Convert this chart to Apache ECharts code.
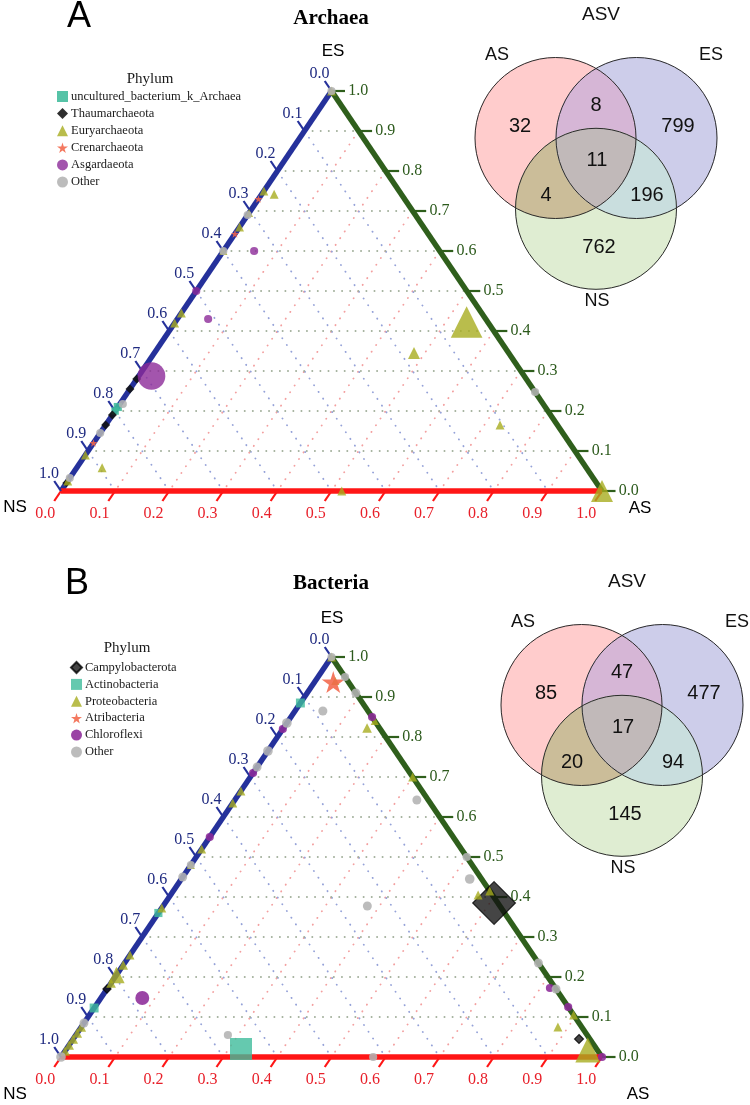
<!DOCTYPE html>
<html><head><meta charset="utf-8">
<script src="https://cdn.jsdelivr.net/npm/echarts@6/dist/echarts.min.js"></script>
<style>html,body{margin:0;padding:0;background:#fff}#c{width:750px;height:1105px}</style>
</head><body><div id="c"></div>
<script>
// ================= DATA =================
const tickValues = [0, 0.1, 0.2, 0.3, 0.4, 0.5, 0.6, 0.7, 0.8, 0.9, 1.0];
const tickLabels = ['0.0','0.1','0.2','0.3','0.4','0.5','0.6','0.7','0.8','0.9','1.0'];
const gridValues = [0.1, 0.2, 0.3, 0.4, 0.5, 0.6, 0.7, 0.8, 0.9];

// Panel A – Archaea. Each point: [NS, ES, AS, relative abundance]
const archaeaUncultured = [[0.79,0.21,0,2],[0.80,0.20,0,1.6]];
const archaeaThaum = [[0.72,0.28,0,2.5],[0.745,0.255,0,2.5],[0.81,0.19,0,2.5],[0.835,0.165,0,2.5],[0.98,0.02,0,2]];
const archaeaEury = [[0,1,0,2.5],[0.25,0.75,0,2.5],[0.235,0.742,0.023,2.5],[0.305,0.695,0,2],[0.34,0.66,0,2.5],
  [0.4,0.6,0,2],[0.555,0.445,0,2.5],[0.58,0.42,0,2.5],[0.91,0.09,0,2.5],[0.895,0.058,0.047,2.5],
  [0.039,0.4225,0.5385,41],[0.175,0.345,0.48,5],[0.106,0.165,0.729,2.5],[0,0,1,19],[0.481,0,0.519,2.5],[0.975,0.025,0,2.5]];
const archaeaCren = [[0.27,0.73,0,2],[0.357,0.643,0,2],[0.88,0.12,0,2]];
const archaeaAsgard = [[0.343,0.60,0.057,2],[0.50,0.50,0,2],[0.513,0.43,0.057,2],[0.689,0.2875,0.0235,31]];
const archaeaOther = [[0,1,0,2],[0.31,0.69,0,2],[0.40,0.60,0,2],[0.777,0.2175,0.0055,2],[0.855,0.145,0,2],[0.9675,0.0325,0,2],[0,0.2475,0.7525,2]];

// Panel B – Bacteria
const bacteriaCampylo = [[0.007,0.385,0.608,77],[0.02,0.045,0.935,2.5],[0.83,0.17,0,2]];
const bacteriaActino = [[0.115,0.885,0,2.5],[0.64,0.36,0,2],[0.8775,0.1225,0,2.5],[0.6573,0.02,0.3227,19]];
const bacteriaProteo = [[0,1,0,2.5],[0.023,0.94,0.037,2],[0.023,0.8225,0.1545,3],[0.335,0.665,0,2.5],[0.365,0.635,0,2.5],
  [0.48,0.52,0,2.5],[0.52,0.48,0,2],[0.6275,0.3725,0,2.5],[0.745,0.255,0,2.5],[0.77,0.23,0,3],[0.795,0.205,0,10],
  [0.815,0.185,0,3],[0.925,0.075,0,3],[0.94,0.06,0,3],[0.955,0.045,0,3],[0.97,0.03,0,3],[0.985,0.015,0,3],
  [0,0.7,0.3,2.5],[0,0.84,0.16,2],[0.0265,0.405,0.5685,2.5],[0,0.415,0.585,2.5],[0,0.105,0.895,2.5],
  [0.044,0.075,0.881,2.5],[0.0175,0.0175,0.965,25]];
const bacteriaAtri = [[0.028,0.9375,0.0345,21]];
const bacteriaChloro = [[0.18,0.82,0,2],[0.29,0.71,0,2],[0.45,0.55,0,2],[0.776,0.1475,0.0765,7],
  [0.01,0.1725,0.8175,2],[0,0.125,0.875,2],[0,0.85,0.15,2],[0,0,1,2]];
const bacteriaOther = [[0,1,0,2],[0.0835,0.865,0.0515,2.6],[0.165,0.835,0,3],[0.235,0.765,0,3],[0.275,0.725,0,2.5],
  [0.52,0.48,0,2],[0.55,0.45,0,2.5],[0.915,0.085,0,2.5],[1,0,0,3],[0.664,0.055,0.281,2],[0.423,0,0.577,2],
  [0.021,0.6425,0.3365,2.5],[0,0.5,0.5,2],[0.022,0.445,0.533,3],[0.245,0.3775,0.3775,2.5],[0,0.235,0.765,2.5],
  [0,0.17,0.83,2.5],[0,0.91,0.09,2.5],[0,0.95,0.05,2]];

// Venn counts: [AS only, AS∩ES, ES only, AS∩ES∩NS, AS∩NS, ES∩NS, NS only]
const vennArchaea = [32, 8, 799, 11, 4, 196, 762];
const vennBacteria = [85, 47, 477, 17, 20, 94, 145];
const vennSets = ['AS', 'ES', 'NS'];

// ================= LAYOUT / STYLE =================
const SERIF = '"Liberation Serif", "Times New Roman", serif';
const SANS = '"Liberation Sans", Arial, sans-serif';
const C = {
  red: '#ff1616', blue: '#25319b', green: '#2f5f1c',
  redT: '#e8202a', blueT: '#1f2a80', greenT: '#2c5a1c',
  gES: '#a3b09c', gNS: '#95a2d8', gAS: '#f3a0a0',
  teal: '#3fbb9b', black: '#111111', olive: '#a8ad1f', coral: '#f2674a', purple: '#8c2a99', gray: '#b3b3b3'
};
const STAR = 'path://M50,0 L61,35 L98,35 L68,57 L79,91 L50,70 L21,91 L32,57 L2,35 L39,35 Z';

function tern(ns, es, as) { return [as + es / 2, es]; }

const series = [];
const grids = [];
const xAxes = [];
const yAxes = [];

function addGrid(left, top, width, height, xmax, ymax, inverse) {
  grids.push({left, top, width, height, containLabel: false});
  const i = grids.length - 1;
  xAxes.push({type: 'value', gridIndex: i, min: 0, max: xmax, show: false});
  yAxes.push({type: 'value', gridIndex: i, min: 0, max: ymax, show: false, inverse: !!inverse});
  return i;
}

function segRender(color, width, dash, cap) {
  return function (params, api) {
    const p1 = api.coord([api.value(0), api.value(1)]);
    const p2 = api.coord([api.value(2), api.value(3)]);
    return {type: 'line', shape: {x1: p1[0], y1: p1[1], x2: p2[0], y2: p2[1]},
      style: {stroke: color, lineWidth: width, lineDash: dash || null, lineCap: cap || 'butt'}};
  };
}
function segSeries(gi, data, color, width, dash, cap, z) {
  series.push({type: 'custom', xAxisIndex: gi, yAxisIndex: gi, coordinateSystem: 'cartesian2d',
    renderItem: segRender(color, width, dash, cap), data, encode: {x: [0, 2], y: [1, 3]}, z, clip: false, silent: true});
}
function textSeries(gi, pts, texts, color, font, align, z) {
  series.push({type: 'custom', xAxisIndex: gi, yAxisIndex: gi, coordinateSystem: 'cartesian2d', clip: false, silent: true, z,
    data: pts, encode: {x: 0, y: 1},
    renderItem: function (params, api) {
      const p = api.coord([api.value(0), api.value(1)]);
      return {type: 'text', x: p[0], y: p[1],
        style: {text: texts[params.dataIndex], fill: color, font, align, verticalAlign: 'middle'}};
    }});
}

function ternaryPanel(gi, groups) {
  const esL = [], nsL = [], asL = [];
  gridValues.forEach(v => {
    esL.push([...tern(1 - v, v, 0), ...tern(0, v, 1 - v)]);
    nsL.push([...tern(v, 1 - v, 0), ...tern(v, 0, 1 - v)]);
    asL.push([...tern(0, 1 - v, v), ...tern(1 - v, 0, v)]);
  });
  segSeries(gi, asL, C.gAS, 1.9, [0.1, 8], 'round', 1);
  segSeries(gi, nsL, C.gNS, 1.9, [0.1, 8], 'round', 1);
  segSeries(gi, esL, C.gES, 1.9, [0.1, 8], 'round', 1);
  segSeries(gi, [[...tern(1, 0, 0), ...tern(0, 1, 0)]], C.blue, 5.5, null, 'butt', 2);
  segSeries(gi, [[...tern(0, 0, 1), ...tern(0, 1, 0)]], C.green, 5.5, null, 'butt', 2);
  segSeries(gi, [[...tern(1, 0, 0), ...tern(0, 0, 1)]], C.red, 5.5, null, 'butt', 2);
  const t = 0.025, rT = [], bT = [], gT = [], rP = [], bP = [], gP = [];
  tickValues.forEach(v => {
    rT.push([...tern(1 - v, 0, v), ...tern(1 - v + t, -t, v)]);
    bT.push([...tern(v, 1 - v, 0), ...tern(v, 1 - v + t, -t)]);
    gT.push([...tern(0, v, 1 - v), ...tern(-t, v, 1 - v + t)]);
    rP.push(tern(1 - v + 0.058, -0.058, v));
    bP.push(tern(v, 1 - v + 0.044, -0.044));
    gP.push(tern(-0.031, v, 1 - v + 0.031));
  });
  segSeries(gi, rT, C.red, 2.2, null, 'butt', 2);
  segSeries(gi, bT, C.blue, 2.2, null, 'butt', 2);
  segSeries(gi, gT, C.green, 2.2, null, 'butt', 2);
  textSeries(gi, rP, tickLabels, C.redT, '16px ' + SERIF, 'center', 2);
  textSeries(gi, bP, tickLabels, C.blueT, '16px ' + SERIF, 'center', 2);
  textSeries(gi, gP, tickLabels, C.greenT, '16px ' + SERIF, 'left', 2);
  groups.forEach(g => {
    series.push({type: 'scatter', name: g.name, xAxisIndex: gi, yAxisIndex: gi, clip: false, z: 3,
      symbol: g.symbol, symbolKeepAspect: true,
      symbolSize: val => 1.5 + 4.7 * Math.sqrt(val[2]),
      itemStyle: {color: g.color, opacity: g.opacity || 0.88, borderColor: g.border || 'transparent', borderWidth: g.border ? 1.2 : 0},
      data: g.data.map(d => { const p = tern(d[0], d[1], d[2]); return [p[0], p[1], d[3]]; })});
  });
}

// ---- Venn geometry (layout in px units of the venn grid) ----
const vennCircles = [[95.5, 138, 80.5], [176.5, 138, 80.5], [136, 208.8, 80.5]];
const vennRegionSets = [[0], [1], [2], [0, 1], [0, 2], [1, 2], [0, 1, 2]];
const vennRegionColors = ['#ffcccc', '#cdcdea', '#dfedd2', '#d6b6d6', '#cbbd99', '#c9dede', '#c1b9b9'];
const vennNumPos = [[60, 126], [136, 105], [218, 126], [137, 160], [86, 195], [187, 195], [139, 247]];
const vennSetPos = [[37, 55], [251, 55], [137, 301]];

function circlePoly(c, n) {
  const pts = [];
  for (let i = 0; i < n; i++) { const a = 2 * Math.PI * i / n; pts.push([c[0] + c[2] * Math.cos(a), c[1] + c[2] * Math.sin(a)]); }
  return pts;
}
function signedArea(p) { let s = 0; for (let i = 0; i < p.length; i++) { const a = p[i], b = p[(i + 1) % p.length]; s += a[0] * b[1] - b[0] * a[1]; } return s; }
function clipConvex(subject, clipper) {
  const sgn = signedArea(clipper) > 0 ? 1 : -1;
  let out = subject;
  for (let i = 0; i < clipper.length && out.length; i++) {
    const a = clipper[i], b = clipper[(i + 1) % clipper.length];
    const inside = p => sgn * ((b[0] - a[0]) * (p[1] - a[1]) - (b[1] - a[1]) * (p[0] - a[0])) >= 0;
    const inter = (p, q) => {
      const d = (p[0] - q[0]) * (a[1] - b[1]) - (p[1] - q[1]) * (a[0] - b[0]);
      const tt = ((p[0] - a[0]) * (a[1] - b[1]) - (p[1] - a[1]) * (a[0] - b[0])) / d;
      return [p[0] + tt * (q[0] - p[0]), p[1] + tt * (q[1] - p[1])];
    };
    const inp = out; out = [];
    for (let j = 0; j < inp.length; j++) {
      const p = inp[j], q = inp[(j + 1) % inp.length];
      const pin = inside(p), qin = inside(q);
      if (pin) { out.push(p); if (!qin) out.push(inter(p, q)); }
      else if (qin) out.push(inter(p, q));
    }
  }
  return out;
}
const circlePolys = vennCircles.map(c => circlePoly(c, 180));
const vennRegionPolys = vennRegionSets.map(s => s.slice(1).reduce((poly, k) => clipConvex(poly, circlePolys[k]), circlePolys[s[0]]));

function vennPanel(gi, counts) {
  series.push({type: 'custom', xAxisIndex: gi, yAxisIndex: gi, coordinateSystem: 'cartesian2d', clip: false, silent: true, z: 2,
    data: vennRegionSets.map(() => [0, 0]), encode: {x: 0, y: 1},
    renderItem: function (params, api) {
      const pts = vennRegionPolys[params.dataIndex].map(p => api.coord(p));
      return {type: 'polygon', shape: {points: pts}, style: {fill: vennRegionColors[params.dataIndex], stroke: vennRegionColors[params.dataIndex], lineWidth: 0.5}};
    }});
  series.push({type: 'custom', xAxisIndex: gi, yAxisIndex: gi, coordinateSystem: 'cartesian2d', clip: false, silent: true, z: 2,
    data: vennCircles, encode: {x: 0, y: 1},
    renderItem: function (params, api) {
      const c = api.coord([api.value(0), api.value(1)]);
      const r = api.size([api.value(2), 0])[0];
      return {type: 'circle', z2: 10, shape: {cx: c[0], cy: c[1], r}, style: {fill: null, stroke: '#2b2b2b', lineWidth: 1}};
    }});
  textSeries(gi, vennNumPos, counts.map(String), '#111', '20px ' + SANS, 'center', 3);
  textSeries(gi, vennSetPos, vennSets, '#111', '18px ' + SANS, 'center', 3);
  textSeries(gi, [[141, 15]], ['ASV'], '#111', '19px ' + SANS, 'center', 3);
}

const gA = addGrid(61, 91, 541, 400, 1, 1);
const gB = addGrid(61, 657, 541, 400, 1, 1);
const vA = addGrid(460, 0, 260, 320, 260, 320, true);
const vB = addGrid(486, 567, 260, 320, 260, 320, true);

const groupsA = [
  {name: 'uncultured_bacterium_k_Archaea', symbol: 'rect', color: C.teal, data: archaeaUncultured, icon: 'rect'},
  {name: 'Thaumarchaeota', symbol: 'diamond', color: C.black, data: archaeaThaum, icon: 'diamond'},
  {name: 'Euryarchaeota', symbol: 'triangle', color: C.olive, data: archaeaEury, icon: 'triangle', opacity: 0.8},
  {name: 'Crenarchaeota', symbol: STAR, color: C.coral, data: archaeaCren, icon: STAR},
  {name: 'Asgardaeota', symbol: 'circle', color: C.purple, data: archaeaAsgard, icon: 'circle', opacity: 0.8},
  {name: 'Other', symbol: 'circle', color: C.gray, data: archaeaOther, icon: 'circle'}
];
const groupsB = [
  {name: 'Campylobacterota', symbol: 'diamond', color: C.black, data: bacteriaCampylo, icon: 'diamond', opacity: 0.78, border: '#000'},
  {name: 'Actinobacteria', symbol: 'rect', color: C.teal, data: bacteriaActino, icon: 'rect', opacity: 0.8},
  {name: 'Proteobacteria', symbol: 'triangle', color: C.olive, data: bacteriaProteo, icon: 'triangle', opacity: 0.8},
  {name: 'Atribacteria', symbol: STAR, color: C.coral, data: bacteriaAtri, icon: STAR},
  {name: 'Chloroflexi', symbol: 'circle', color: C.purple, data: bacteriaChloro, icon: 'circle'},
  {name: 'Other', symbol: 'circle', color: C.gray, data: bacteriaOther, icon: 'circle'}
];

ternaryPanel(gA, groupsA);
ternaryPanel(gB, groupsB);
vennPanel(vA, vennArchaea);
vennPanel(vB, vennBacteria);

function legendOf(groups, left, top, gap) {
  return {data: groups.map(g => ({name: g.name, icon: g.icon})), left, top, orient: 'vertical',
    itemWidth: 11, itemHeight: 11, itemGap: gap, padding: 0, selectedMode: false,
    textStyle: {fontFamily: SERIF, fontSize: 12.5, color: '#1a1a1a', padding: [0, 0, 0, -2]}};
}
function txt(x, y, text, font, color) {
  return {type: 'text', x, y, silent: true, style: {text, font, fill: color || '#000', align: 'center', verticalAlign: 'middle'}};
}

const option = {
  animation: false,
  backgroundColor: '#ffffff',
  grid: grids, xAxis: xAxes, yAxis: yAxes,
  legend: [legendOf(groupsA, 57, 90, 4.1), legendOf(groupsB, 70, 661, 3.9)],
  graphic: [
    txt(79, 17, 'A', '36px ' + SANS), txt(77, 584, 'B', '36px ' + SANS),
    txt(331, 19, 'Archaea', 'bold 21px ' + SERIF), txt(331, 584, 'Bacteria', 'bold 21px ' + SERIF),
    txt(333, 51, 'ES', '17px ' + SANS), txt(332, 618, 'ES', '17px ' + SANS),
    txt(15, 507, 'NS', '17px ' + SANS), txt(15, 1094, 'NS', '17px ' + SANS),
    txt(640, 508, 'AS', '17px ' + SANS), txt(638, 1094, 'AS', '17px ' + SANS),
    txt(150, 79, 'Phylum', '15px ' + SERIF, '#1a1a1a'), txt(127, 648, 'Phylum', '15px ' + SERIF, '#1a1a1a')
  ],
  series
};
const chart = echarts.init(document.getElementById('c'), null, {renderer: 'canvas'});
chart.setOption(option);
</script></body></html>
